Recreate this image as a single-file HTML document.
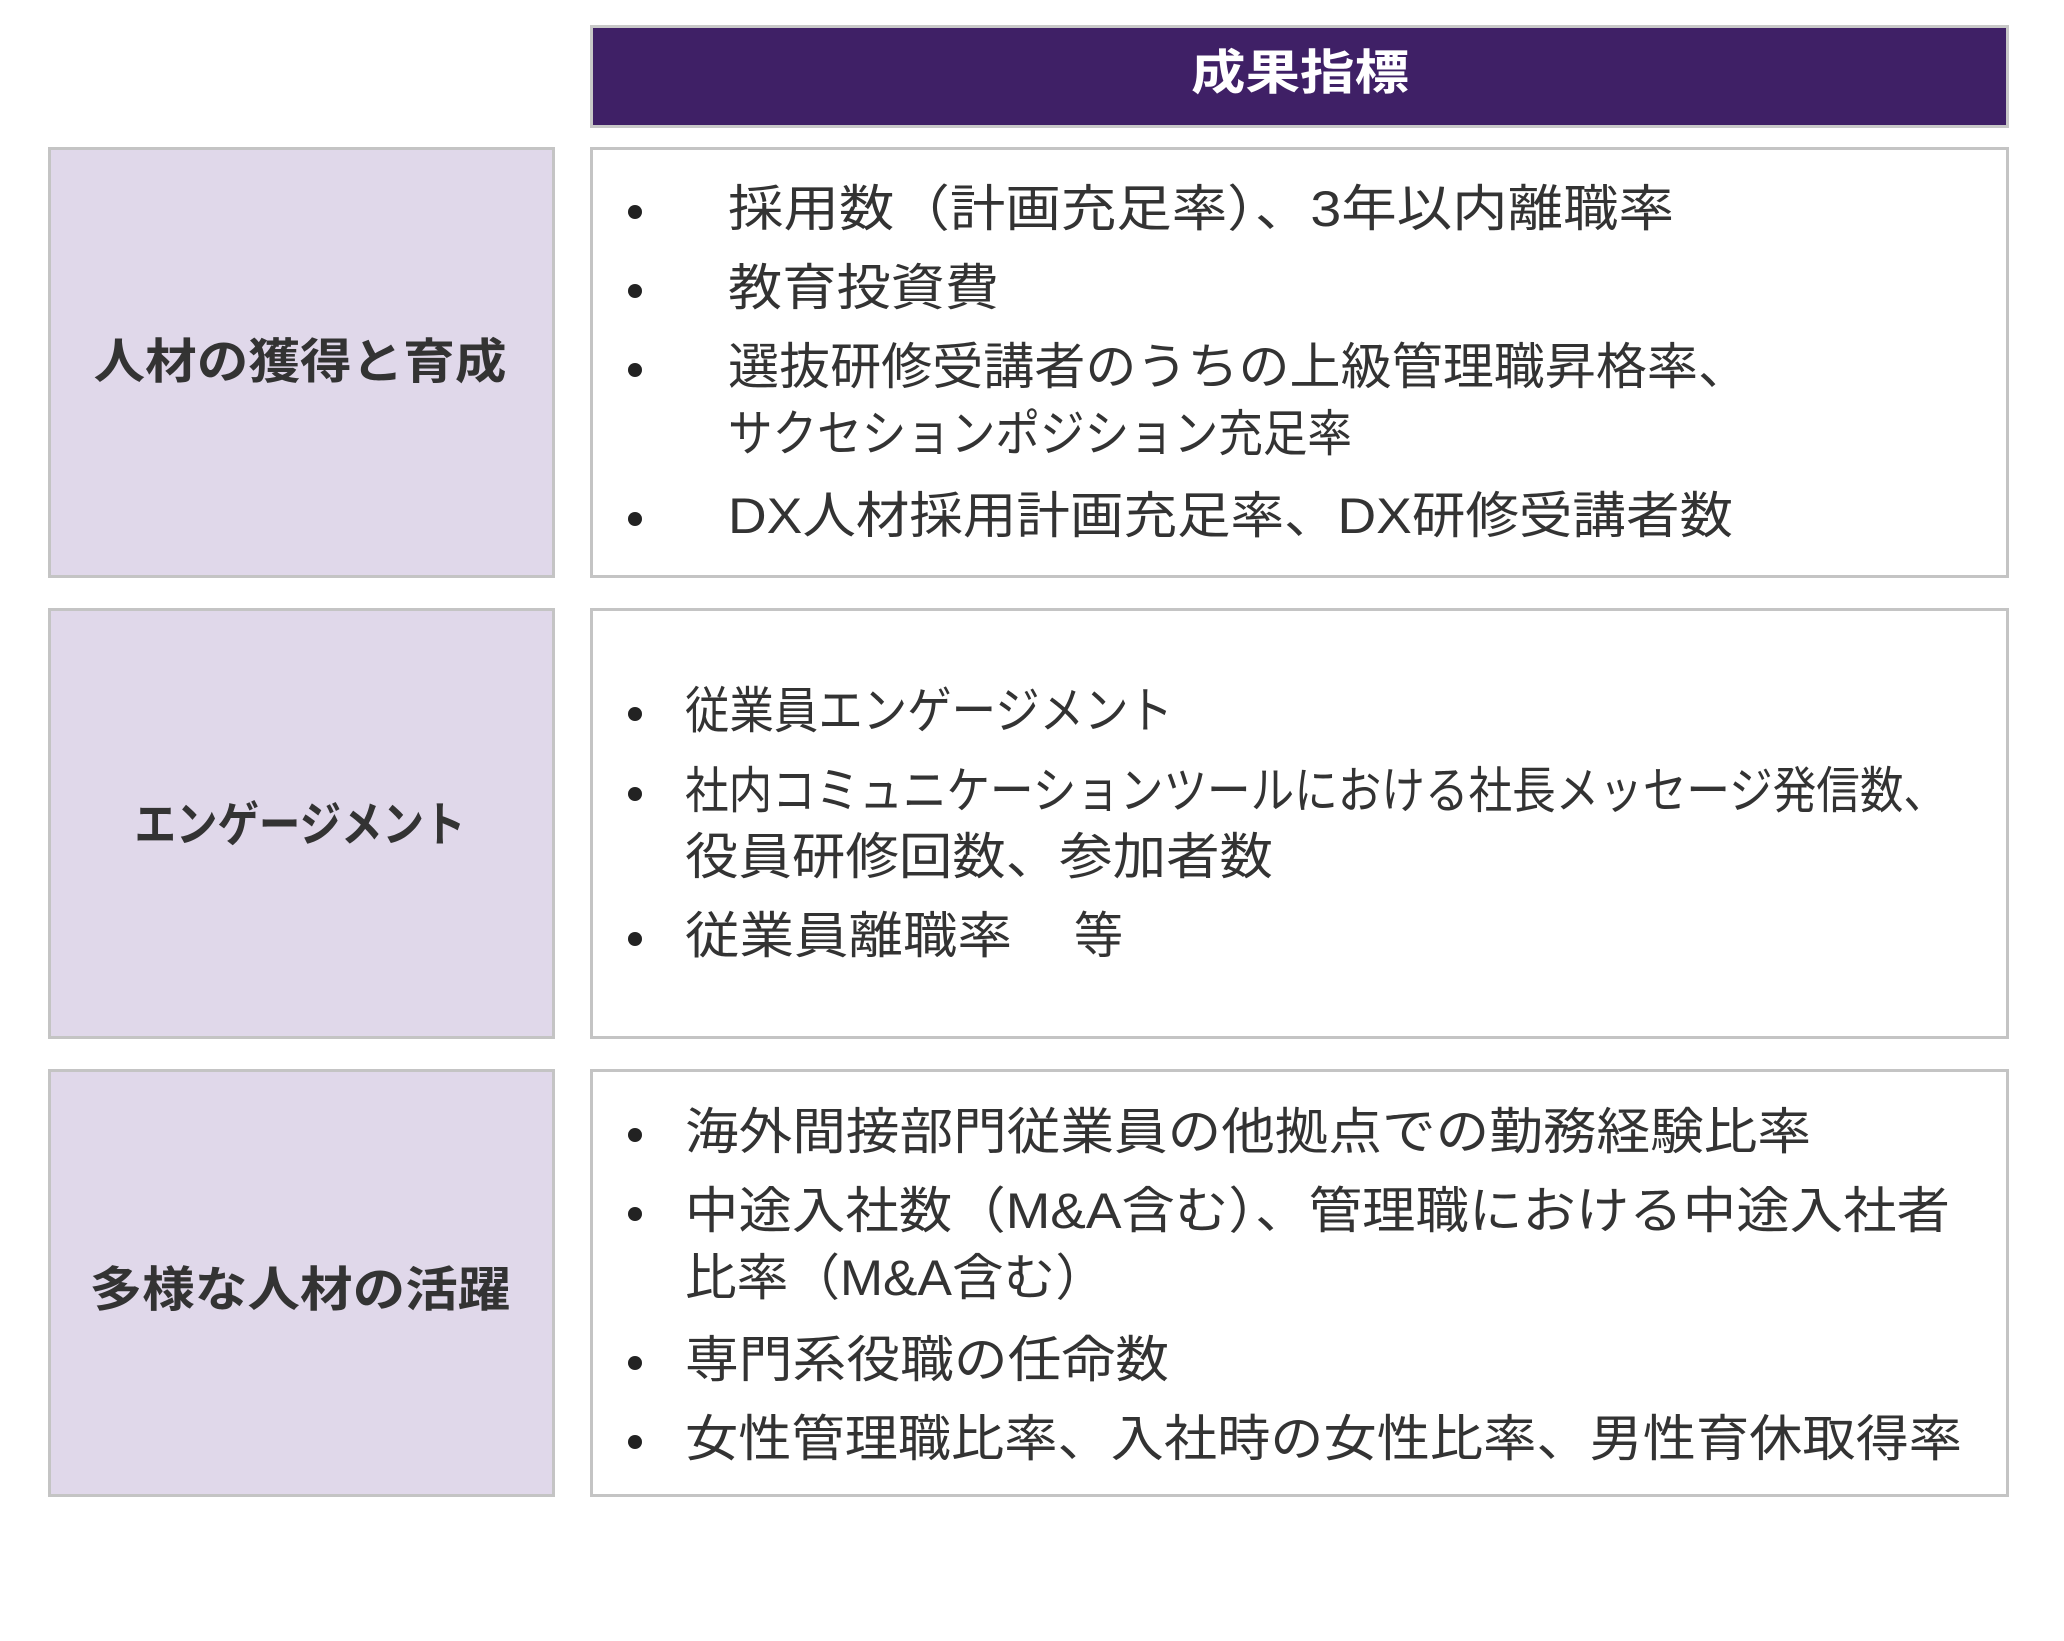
<!DOCTYPE html>
<html><head><meta charset="utf-8"><style>
html,body{margin:0;padding:0;background:#fff;}
svg{display:block;}
text{font-family:"Liberation Sans","Noto Sans CJK JP",sans-serif;fill:#333;}
.b{font-size:50px;}
.h{font-size:48px;font-weight:bold;}
</style></head><body>
<svg width="2064" height="1641" viewBox="0 0 2064 1641" xmlns="http://www.w3.org/2000/svg">
<rect x="0" y="0" width="2064" height="1641" fill="#fff"/>
<rect x="591.5" y="26.5" width="1416" height="100" fill="#3f2066" stroke="#c8c8c8" stroke-width="3"/>
<text x="1300" y="89" class="h" text-anchor="middle" style="fill:#fff" textLength="218" lengthAdjust="spacingAndGlyphs">成果指標</text>

<g fill="#e0d8ea" stroke="#c4c4c4" stroke-width="3">
<rect x="49.5" y="148.5" width="504" height="428"/>
<rect x="49.5" y="609.5" width="504" height="428"/>
<rect x="49.5" y="1070.5" width="504" height="425"/>
</g>
<g fill="#fff" stroke="#c4c4c4" stroke-width="3">
<rect x="591.5" y="148.5" width="1416" height="428"/>
<rect x="591.5" y="609.5" width="1416" height="428"/>
<rect x="591.5" y="1070.5" width="1416" height="425"/>
</g>

<text x="300" y="378" class="h" text-anchor="middle" textLength="413" lengthAdjust="spacingAndGlyphs">人材の獲得と育成</text>
<text x="300" y="841" class="h" text-anchor="middle" textLength="331" lengthAdjust="spacingAndGlyphs">エンゲージメント</text>
<text x="300" y="1306" class="h" text-anchor="middle" textLength="421" lengthAdjust="spacingAndGlyphs">多様な人材の活躍</text>

<g fill="#222">
<circle cx="635" cy="212" r="7"/><circle cx="635" cy="291" r="7"/><circle cx="635" cy="370" r="7"/><circle cx="635" cy="519" r="7"/>
<circle cx="635" cy="714" r="7"/><circle cx="635" cy="794" r="7"/><circle cx="635" cy="939" r="7"/>
<circle cx="635" cy="1135" r="7"/><circle cx="635" cy="1214" r="7"/><circle cx="635" cy="1363" r="7"/><circle cx="635" cy="1442" r="7"/>
</g>

<g class="b">
<text x="728" y="226" textLength="946" lengthAdjust="spacingAndGlyphs">採用数（計画充足率）、3年以内離職率</text>
<text x="728" y="305" textLength="271" lengthAdjust="spacingAndGlyphs">教育投資費</text>
<text x="728" y="384" textLength="1021" lengthAdjust="spacingAndGlyphs">選抜研修受講者のうちの上級管理職昇格率、</text>
<text x="728" y="451" textLength="624" lengthAdjust="spacingAndGlyphs">サクセションポジション充足率</text>
<text x="728" y="533" textLength="1005" lengthAdjust="spacingAndGlyphs">DX人材採用計画充足率、DX研修受講者数</text>

<text x="685" y="728" textLength="488" lengthAdjust="spacingAndGlyphs">従業員エンゲージメント</text>
<text x="685" y="808" textLength="1262" lengthAdjust="spacingAndGlyphs">社内コミュニケーションツールにおける社長メッセージ発信数、</text>
<text x="685" y="874" textLength="588" lengthAdjust="spacingAndGlyphs">役員研修回数、参加者数</text>
<text x="685" y="953" textLength="327" lengthAdjust="spacingAndGlyphs">従業員離職率</text>
<text x="1074" y="953" textLength="49" lengthAdjust="spacingAndGlyphs">等</text>

<text x="685" y="1149" textLength="1126" lengthAdjust="spacingAndGlyphs">海外間接部門従業員の他拠点での勤務経験比率</text>
<text x="685" y="1228" textLength="1265" lengthAdjust="spacingAndGlyphs">中途入社数（M&amp;A含む）、管理職における中途入社者</text>
<text x="685" y="1295" textLength="422" lengthAdjust="spacingAndGlyphs">比率（M&amp;A含む）</text>
<text x="685" y="1377" textLength="484" lengthAdjust="spacingAndGlyphs">専門系役職の任命数</text>
<text x="685" y="1456" textLength="1277" lengthAdjust="spacingAndGlyphs">女性管理職比率、入社時の女性比率、男性育休取得率</text>
</g>
</svg>
</body></html>
